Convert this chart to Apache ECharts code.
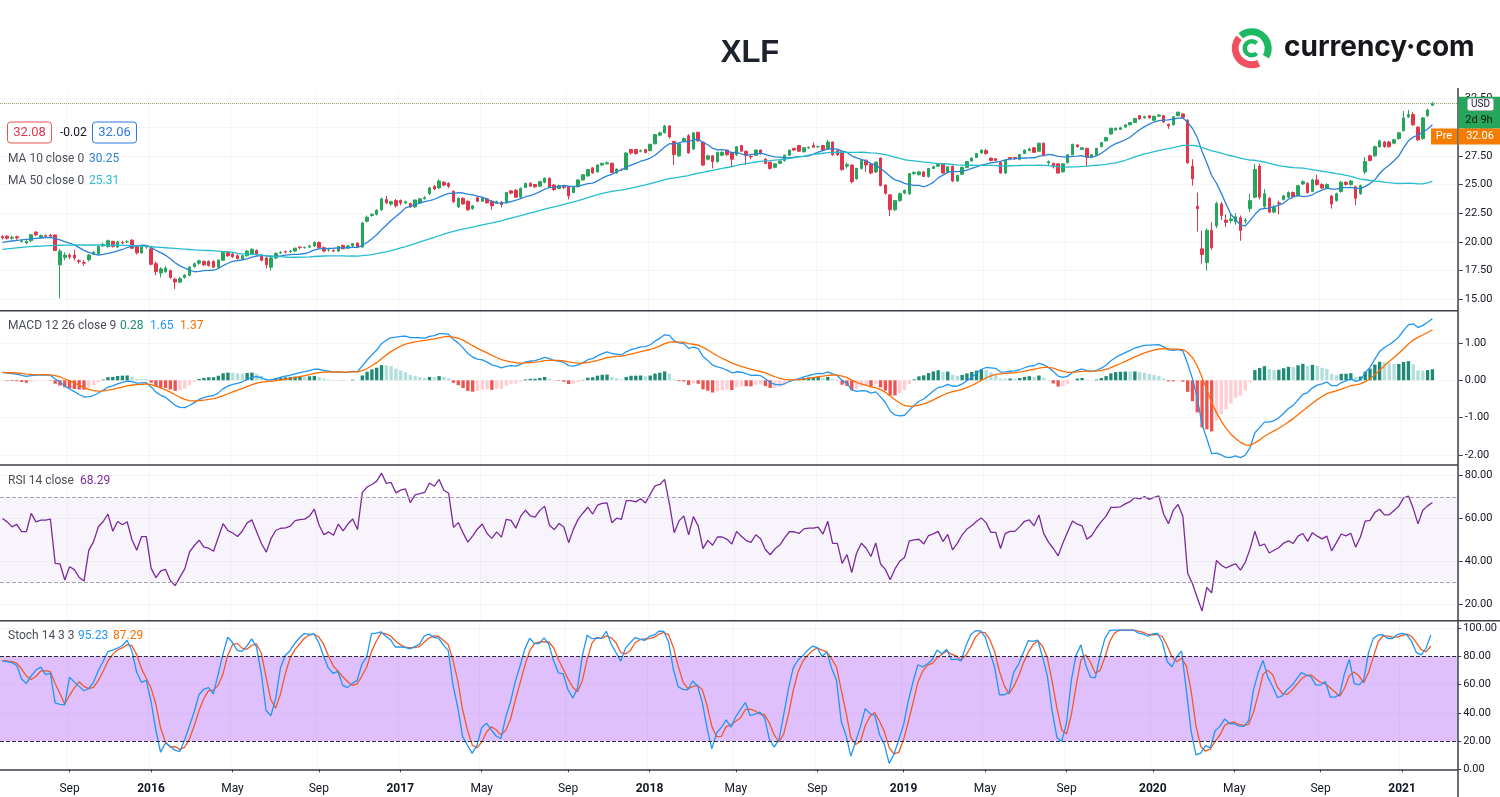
<!DOCTYPE html>
<html>
<head>
<meta charset="utf-8">
<title>XLF</title>
<script src="https://cdn.jsdelivr.net/npm/echarts@6/dist/echarts.min.js"></script>
<style>
  html, body { margin: 0; padding: 0; background: #fff; }
  #chart { width: 1500px; height: 797px; }
</style>
</head>
<body>
<div id="chart"></div>
<script>
// weekly bars from Jun 1 2015, 299 candles + 5 empty weeks of right margin
const firstWeek = Date.UTC(2015, 5, 1);
const weekCount = 304;
const weeks = [];
for (let i = 0; i < weekCount; i++) {
  weeks.push(new Date(firstWeek + i * 7 * 864e5).toISOString().slice(0, 10));
}

const opens = [
  20.45,20.50,20.32,20.45,20.05,19.90,20.10,20.85,20.40,20.55,
  20.60,20.60,18.00,18.65,18.85,18.85,18.35,18.20,18.45,18.95,
  19.00,19.65,19.60,20.05,19.55,19.95,20.00,20.15,19.60,19.05,
  19.60,19.40,18.10,17.30,17.40,17.50,16.75,16.50,16.90,17.10,
  17.85,18.15,18.30,18.30,18.30,17.80,18.40,19.10,18.95,18.80,
  18.55,18.80,18.90,19.25,18.85,18.60,17.80,18.60,19.05,19.15,
  19.15,19.20,19.55,19.50,19.55,19.65,19.95,19.50,19.30,19.25,
  19.20,19.70,19.45,19.65,19.90,19.55,21.80,22.30,22.40,22.80,
  23.70,23.30,23.60,23.60,23.40,23.35,23.05,23.40,23.75,24.20,
  24.85,24.70,25.20,25.10,24.40,23.05,23.80,23.55,22.90,23.85,
  23.55,23.75,23.55,23.35,23.45,23.40,24.45,24.50,23.90,24.75,
  25.10,25.00,24.85,25.20,25.55,24.95,24.65,24.80,24.80,24.30,
  24.80,25.40,25.75,26.45,26.10,26.70,26.80,26.85,26.00,26.30,
  26.30,28.05,28.05,27.90,28.05,27.95,28.55,29.30,29.50,30.10,
  28.75,27.50,28.80,29.25,28.10,29.55,28.70,27.20,27.50,27.00,
  27.55,28.00,27.80,27.60,28.40,27.90,27.45,27.55,28.00,27.20,
  26.95,26.50,26.85,27.10,27.55,28.15,28.40,27.85,28.20,28.40,
  28.30,28.40,28.10,28.70,27.95,27.85,26.60,26.70,25.50,26.40,
  27.10,26.75,26.10,27.30,24.95,24.10,22.80,23.60,24.25,24.20,
  25.95,25.85,26.10,25.70,26.40,26.60,26.80,26.05,26.60,25.30,
  25.90,26.50,27.05,27.35,27.75,27.95,27.30,27.25,26.90,26.00,
  27.35,27.35,27.20,27.70,27.95,28.20,27.90,28.60,26.90,26.85,
  26.80,26.10,26.90,27.60,28.45,28.05,28.15,27.35,27.55,28.30,
  28.80,29.40,29.75,29.80,30.00,30.20,30.40,31.00,30.80,31.00,
  30.60,30.95,31.00,30.25,30.20,31.00,31.15,30.60,26.60,23.10,
  19.40,18.20,21.00,21.40,23.30,21.90,21.85,21.75,22.10,21.85,
  22.90,23.90,26.60,23.10,23.80,22.60,23.40,23.70,23.90,24.30,
  24.00,25.05,25.10,24.40,25.40,25.00,24.70,24.00,23.60,24.40,
  25.20,25.00,24.80,24.20,26.10,27.50,27.50,28.30,28.70,28.70,
  28.60,29.00,29.70,30.90,31.10,30.00,29.00,31.00,31.90
];
const closes = [
  20.35,20.32,20.40,20.35,20.08,20.05,20.62,20.62,20.55,20.50,
  20.50,19.25,19.20,18.85,18.70,18.60,18.30,18.15,18.85,19.10,
  19.60,19.80,20.10,19.60,20.00,19.90,20.02,19.45,19.05,19.55,
  19.55,18.05,17.40,17.65,17.70,16.90,16.50,16.80,17.10,17.80,
  18.10,18.35,18.00,17.95,17.80,18.40,19.10,18.80,18.70,18.55,
  18.80,19.20,19.35,18.90,18.40,18.00,18.60,19.00,19.10,19.12,
  19.20,19.45,19.50,19.52,19.65,19.95,19.50,19.20,19.30,19.20,
  19.60,19.40,19.65,19.85,19.55,21.65,22.15,22.40,22.75,23.75,
  23.40,23.50,23.15,23.40,23.50,23.05,23.65,23.75,23.85,24.70,
  24.60,25.30,24.95,24.85,23.50,23.80,23.30,22.80,23.15,23.55,
  23.85,23.40,23.15,23.50,23.25,24.30,24.25,23.90,24.65,25.10,
  24.85,24.80,25.25,25.55,24.75,24.55,24.90,24.75,24.00,24.75,
  25.40,25.85,26.30,26.00,26.70,26.85,26.90,26.05,26.35,26.30,
  27.75,27.75,27.70,27.95,27.80,28.50,29.35,29.50,30.10,29.15,
  27.60,28.55,29.00,27.75,29.50,28.80,26.70,27.50,27.00,27.80,
  27.80,27.60,27.20,28.30,27.90,27.55,27.40,28.00,27.70,26.85,
  26.40,26.80,27.05,27.55,28.00,28.00,27.90,28.20,28.25,28.25,
  28.30,28.00,28.70,27.60,27.60,26.30,26.75,25.25,26.40,27.10,
  26.70,26.00,26.95,24.90,24.25,22.80,23.60,24.20,24.50,25.95,
  26.05,26.10,25.70,26.40,26.55,26.75,26.00,26.55,25.30,25.80,
  26.50,27.00,27.30,27.70,28.00,27.70,27.10,27.10,26.00,27.10,
  27.25,27.25,27.60,28.00,28.10,27.80,28.60,27.55,27.00,26.55,
  26.00,26.80,27.60,28.50,28.30,28.20,27.35,27.60,28.15,28.65,
  29.10,29.90,29.90,29.95,30.20,30.40,30.75,30.70,30.90,30.80,
  30.95,31.05,30.45,30.10,30.90,31.30,30.85,26.90,25.50,22.90,
  18.90,21.00,19.50,23.35,22.30,21.70,22.00,22.20,21.00,21.90,
  23.60,26.30,23.90,24.20,22.60,23.00,23.35,24.00,24.30,23.95,
  24.90,25.25,24.30,25.40,25.00,24.70,25.00,23.30,24.20,25.20,
  25.00,25.30,23.80,24.90,27.00,27.10,28.30,28.80,28.30,28.30,
  28.90,29.50,30.80,31.10,30.20,28.90,30.80,31.50,32.06
];
const lows = [
  20.20,20.20,20.20,20.20,19.95,19.80,20.00,20.50,20.30,20.40,
  20.40,19.20,15.08,18.40,18.50,18.40,18.10,17.90,18.30,18.85,
  18.95,19.55,19.50,19.50,19.45,19.80,19.90,19.40,18.90,18.95,
  19.40,17.95,17.10,16.90,17.30,16.80,15.90,16.40,16.80,17.00,
  17.75,18.00,17.90,17.85,17.70,17.70,18.35,18.70,18.60,18.45,
  18.45,18.70,18.85,18.80,18.30,17.70,17.50,18.50,18.95,19.00,
  19.05,19.10,19.35,19.40,19.45,19.55,19.40,19.10,19.15,19.10,
  19.10,19.35,19.40,19.55,19.45,19.50,21.70,22.20,22.30,22.70,
  23.30,23.15,23.00,23.20,23.30,22.95,22.95,23.35,23.70,24.10,
  24.50,24.60,24.85,24.70,23.40,22.95,23.25,22.70,22.80,23.45,
  23.50,23.35,22.80,23.30,23.00,23.35,24.15,23.85,23.80,24.70,
  24.80,24.70,24.80,25.10,24.70,24.45,24.60,24.60,23.70,24.25,
  24.75,25.35,25.70,25.95,26.05,26.60,26.75,26.00,25.95,26.20,
  26.25,27.60,27.60,27.80,27.70,27.90,28.50,29.20,29.45,29.00,
  26.70,27.40,28.70,27.70,28.00,28.75,26.60,27.10,26.40,26.90,
  27.50,27.50,26.50,27.50,27.85,26.70,27.20,27.50,27.60,26.75,
  26.30,26.40,26.80,27.00,27.50,27.90,27.85,27.80,28.10,28.20,
  28.20,27.95,28.05,27.50,27.50,26.20,26.40,25.10,25.40,26.30,
  26.10,25.90,26.00,24.85,24.10,22.25,22.70,23.50,24.15,24.10,
  25.85,25.80,25.65,25.60,26.35,26.55,25.95,26.00,25.20,25.25,
  25.85,26.45,27.00,27.30,27.70,27.60,27.00,27.00,25.95,25.90,
  27.10,27.15,27.10,27.65,27.90,27.75,27.85,27.50,26.70,26.40,
  25.95,26.05,26.85,27.55,28.20,28.00,26.60,27.30,27.50,28.25,
  28.75,29.35,29.70,29.75,29.95,30.15,30.35,30.65,30.75,30.75,
  30.55,30.90,30.40,29.85,30.15,30.95,30.80,26.80,24.90,20.90,
  18.10,17.50,19.30,21.20,21.90,21.30,21.60,21.50,20.10,21.60,
  22.60,23.80,23.70,22.90,22.50,22.50,22.40,23.60,23.80,23.80,
  23.95,24.95,24.20,24.35,24.90,24.60,24.60,22.90,23.50,24.30,
  24.90,24.90,23.20,24.10,25.90,27.00,27.40,28.20,28.20,28.20,
  28.50,28.90,29.60,30.80,30.10,28.80,28.90,30.90,31.85
];
const highs = [
  20.60,20.60,20.55,20.55,20.20,20.15,20.70,20.95,20.65,20.65,
  20.70,20.65,19.40,19.10,19.00,19.30,18.50,18.40,18.95,19.20,
  19.70,19.90,20.20,20.10,20.10,20.10,20.15,20.25,19.70,19.65,
  19.70,19.60,18.30,17.80,17.90,17.60,16.90,16.95,17.20,17.90,
  18.20,18.45,18.40,18.40,18.40,18.50,19.20,19.20,19.05,18.90,
  18.90,19.30,19.45,19.35,18.95,18.70,18.70,19.10,19.20,19.25,
  19.30,19.50,19.60,19.60,19.75,20.05,20.05,19.60,19.45,19.35,
  19.65,19.75,19.70,19.90,19.95,21.75,22.30,22.50,22.85,23.85,
  24.00,23.60,23.75,23.70,23.60,23.40,23.70,23.80,24.00,24.80,
  24.95,25.45,25.30,25.20,24.50,23.90,23.90,23.60,23.20,23.95,
  23.90,23.85,23.60,23.60,23.55,24.35,24.50,24.60,24.75,25.15,
  25.20,25.05,25.30,25.60,25.60,25.05,25.00,24.90,24.85,24.80,
  25.45,25.90,26.35,26.50,26.75,26.90,27.00,26.90,26.40,26.40,
  27.80,28.10,28.10,28.05,28.10,28.55,29.40,29.60,30.20,30.15,
  28.80,28.60,29.10,29.40,29.55,29.60,28.75,27.60,27.55,27.85,
  27.90,28.05,27.85,28.35,28.45,27.95,27.55,28.05,28.05,27.30,
  27.00,26.85,27.10,27.60,28.05,28.20,28.45,28.25,28.30,28.65,
  28.40,28.45,28.90,28.75,28.00,27.90,26.90,26.75,26.45,27.15,
  27.20,26.80,27.00,27.35,25.00,24.15,23.65,24.30,24.55,26.00,
  26.15,26.20,26.15,26.45,26.65,26.85,26.85,26.60,26.65,25.85,
  26.55,27.05,27.35,27.75,28.05,28.10,27.35,27.30,26.95,27.15,
  27.40,27.40,27.65,28.05,28.20,28.25,28.65,28.65,27.10,26.90,
  26.85,26.85,27.65,28.55,28.50,28.25,28.20,27.65,28.20,28.70,
  29.15,29.95,29.95,30.00,30.25,30.45,30.80,31.05,31.00,31.05,
  31.00,31.15,31.05,30.30,30.95,31.35,31.20,30.70,27.20,24.30,
  21.00,21.20,21.70,23.50,23.50,22.40,22.50,22.50,22.30,22.10,
  24.20,26.80,26.80,24.60,23.90,23.20,23.60,24.10,24.40,24.40,
  24.95,25.35,25.20,25.50,25.85,25.10,25.10,24.10,24.30,25.30,
  25.30,25.40,24.90,25.00,27.40,27.60,28.40,28.90,28.80,28.80,
  29.00,29.60,31.40,31.50,31.30,30.10,30.90,31.60,32.20
];

// indicator values for the first weeks, whose history lies left of the chart
const ma10Head = [19.95,20.02,20.08,20.13,20.18,20.22,20.26,20.30,20.34];
const ma50Head = [
  19.35,19.40,19.44,19.48,19.52,19.56,19.59,19.62,19.64,19.66,
  19.68,19.70,19.71,19.72,19.72,19.73,19.73,19.73,19.73,19.73,
  19.73,19.72,19.72,19.71,19.71,19.70,19.70,19.68,19.66,19.64,
  19.61,19.58,19.55,19.52,19.49,19.46,19.43,19.40,19.37,19.34,
  19.31,19.29,19.27,19.25,19.22,19.19,19.16,19.13,19.10
];
const rsiHead = [60.0,58.4,56.1,57.2,53.8,53.8,62.4,58.4,59.2,59.2,59.7,39.0,38.8,31.2,37.4];
const stochKHead = [76.8,76.4,75.7,73.6,64.1,60.9,66.2,70.4,72.5,67.2,68.3,47.1,46.1];
const stochDHead = [77.0,76.8];
const macdStart = 0.21, signalStart = 0.21;

const priceTicks = [15, 17.5, 20, 22.5, 25, 27.5, 30, 32.5];
const macdTicks = [-2, -1, 0, 1];
const rsiTicks = [20, 40, 60, 80];
const stochTicks = [0, 20, 40, 60, 80, 100];
const lastPrice = 32.06;

const monthNames = ['Jan','Feb','Mar','Apr','May','Jun','Jul','Aug','Sep','Oct','Nov','Dec'];
const FONT = 'Roboto, "Liberation Sans", sans-serif';
const UP = '#26a65b', DOWN = '#e0364d';
const BLUE = '#2196f3', ORANGE = '#ff6d00', CYAN = '#26bcd0', MA10C = '#2a83d6', PURPLE = '#7b2a9c';

// --- indicators ---
function movingAvg(src, n, head) {
  return src.map((v, i) => {
    if (i < n - 1) return head[i];
    let s = 0;
    for (let j = i - n + 1; j <= i; j++) s += src[j];
    return +(s / n).toFixed(3);
  });
}
function ema(src, n, seed) {
  const k = 2 / (n + 1);
  const out = [];
  src.forEach((v, i) => out.push(i === 0 ? seed : v * k + out[i - 1] * (1 - k)));
  return out;
}
const ma10 = movingAvg(closes, 10, ma10Head);
const ma50 = movingAvg(closes, 50, ma50Head);

const ema12 = ema(closes, 12, closes[0]);
const ema26 = ema(closes, 26, closes[0] - macdStart);
const macd = closes.map((c, i) => ema12[i] - ema26[i]);
const signal = ema(macd, 9, signalStart);
const hist = macd.map((m, i) => m - signal[i]);
const histData = hist.map((h, i) => {
  const prev = i ? hist[i - 1] : 0;
  let c;
  if (h >= 0) c = prev < h ? '#1e8a76' : '#b2dfdb';
  else c = prev < h ? '#ffcdd2' : '#ef5350';
  return { value: +h.toFixed(4), itemStyle: { color: c } };
});

// RSI: Wilder smoothing continued from the last read head value
const rsi = rsiHead.slice();
let h0 = rsiHead.length - 1, absSum = 0;
for (let i = 1; i <= h0; i++) absSum += Math.abs(closes[i] - closes[i - 1]);
let avgGain = absSum / h0 * rsiHead[h0] / 100;
let avgLoss = absSum / h0 - avgGain;
for (let i = h0 + 1; i < closes.length; i++) {
  const ch = closes[i] - closes[i - 1];
  avgGain = (avgGain * 13 + Math.max(ch, 0)) / 14;
  avgLoss = (avgLoss * 13 + Math.max(-ch, 0)) / 14;
  rsi.push(+(avgLoss === 0 ? 100 : 100 - 100 / (1 + avgGain / avgLoss)).toFixed(2));
}

const rawK = closes.map((c, i) => {
  const a = Math.max(0, i - 13);
  const hh = Math.max(...highs.slice(a, i + 1)), ll = Math.min(...lows.slice(a, i + 1));
  return hh === ll ? 50 : 100 * (c - ll) / (hh - ll);
});
const stochK = rawK.map((v, i) => i < stochKHead.length ? stochKHead[i] : +((rawK[i] + rawK[i - 1] + rawK[i - 2]) / 3).toFixed(2));
const stochD = stochK.map((v, i) => i < stochDHead.length ? stochDHead[i] : +((stochK[i] + stochK[i - 1] + stochK[i - 2]) / 3).toFixed(2));

const candles = opens.map((o, i) => [o, closes[i], lows[i], highs[i]]);

// --- layout ---
const gridLeft = -3.4, gridWidth = 1462.2;
const panels = [
  { top: 92, height: 218.7, min: 14.007, max: 33.06, ticks: priceTicks },
  { top: 310.7, height: 154.3, min: -2.269, max: 1.864, ticks: macdTicks },
  { top: 465, height: 155.7, min: 12.18, max: 85.01, ticks: rsiTicks },
  { top: 620.7, height: 154.3, min: -4.04, max: 105.4, ticks: stochTicks }
];

function isLabelWeek(i) {
  if (i === 0) return false;
  const m = +weeks[i].slice(5, 7), pm = +weeks[i - 1].slice(5, 7);
  return m !== pm && (m === 1 || m === 5 || m === 9);
}
const faint = 'rgba(42,46,57,0.045)';

const chart = echarts.init(document.getElementById('chart'));

function txt(x, y, text, color, size, align) {
  return {
    type: 'text', x: x, y: y, z: 100,
    style: { text: text, fill: color, font: (size || 12) + 'px ' + FONT, verticalAlign: 'middle', align: align || 'left' }
  };
}
function box(x, y, w, h, fill, stroke, r) {
  return { type: 'rect', z: 99, shape: { x: x, y: y, width: w, height: h, r: r || 0 },
    style: { fill: fill, stroke: stroke || null, lineWidth: 1 } };
}
function hline(y, x1, x2, color, w) {
  return { type: 'line', z: 98, shape: { x1: x1, y1: y, x2: x2, y2: y }, style: { stroke: color, lineWidth: w } };
}

const graphics = [
  // title
  { type: 'text', x: 750, y: 53, z: 100,
    style: { text: 'XLF', fill: '#1e222d', font: 'bold 31px "Liberation Sans", Arial, sans-serif', align: 'center', verticalAlign: 'middle' } },
  // logo
  { type: 'arc', z: 100, shape: { cx: 1251.7, cy: 48.3, r: 16.5, startAngle: Math.PI * 0.36, endAngle: Math.PI * 1.22, clockwise: true },
    style: { stroke: '#ef4f5f', lineWidth: 7, fill: null } },
  { type: 'arc', z: 100, shape: { cx: 1251.7, cy: 48.3, r: 16.5, startAngle: Math.PI * 1.27, endAngle: Math.PI * 2.17, clockwise: true },
    style: { stroke: '#1fb862', lineWidth: 7, fill: null } },
  { type: 'arc', z: 100, shape: { cx: 1251.7, cy: 48.3, r: 7, startAngle: Math.PI * 0.25, endAngle: Math.PI * 1.75, clockwise: true },
    style: { stroke: '#1fb862', lineWidth: 4.5, fill: null } },
  { type: 'text', x: 1284, y: 48, z: 100,
    style: { text: 'currency·com', fill: '#15171a', font: 'bold 28px Inter, "Open Sans", sans-serif', align: 'left', verticalAlign: 'middle' } },
  // price legend
  box(7.5, 122, 44, 21, '#fff', '#ef5350', 3),
  txt(29.5, 132.5, '32.08', '#e0364d', 13, 'center'),
  txt(60, 132.5, '-0.02', '#131722', 12),
  box(92.5, 122, 44, 21, '#fff', '#2a7ae2', 3),
  txt(114.5, 132.5, '32.06', '#2a7ae2', 13, 'center'),
  txt(8, 159, 'MA 10 close 0', '#4a4e59', 12),
  txt(89, 159, '30.25', MA10C, 12),
  txt(8, 181, 'MA 50 close 0', '#4a4e59', 12),
  txt(89, 181, '25.31', CYAN, 12),
  // indicator legends
  txt(8, 326, 'MACD 12 26 close 9', '#4a4e59', 12),
  txt(120, 326, '0.28', '#1e8a76', 12),
  txt(150, 326, '1.65', BLUE, 12),
  txt(180, 326, '1.37', ORANGE, 12),
  txt(8, 481, 'RSI 14 close', '#4a4e59', 12),
  txt(80, 481, '68.29', PURPLE, 12),
  txt(8, 636, 'Stoch 14 3 3', '#4a4e59', 12),
  txt(78, 636, '95.23', BLUE, 12),
  txt(113, 636, '87.29', ORANGE, 12),
  // panel separators and price scale border
  hline(310.7, 0, 1458, '#3b3f4a', 1.5),
  hline(465, 0, 1458, '#3b3f4a', 1.5),
  hline(620.7, 0, 1500, '#3b3f4a', 1.5),
  { type: 'line', z: 98, shape: { x1: 1458, y1: 88, x2: 1458, y2: 797 }, style: { stroke: '#3b3f4a', lineWidth: 1.5 } },
  // right-side price labels
  box(1458.5, 96.8, 41.5, 31.7, UP),
  box(1467.5, 98.5, 26, 12, '#fff', '#b2b5be', 2),
  txt(1480.5, 104.8, 'USD', '#131722', 10, 'center'),
  txt(1479, 120.5, '2d 9h', '#0f1a14', 11, 'center'),
  box(1458.5, 128.5, 41.5, 16, '#f57c00'),
  box(1431, 128.5, 26, 16, '#f57c00'),
  txt(1444, 136.5, 'Pre', '#fff', 11, 'center'),
  txt(1480, 136.5, '32.06', '#fff', 11, 'center')
];

const option = {
  animation: false,
  backgroundColor: '#fff',
  textStyle: { fontFamily: FONT },
  grid: panels.map(p => ({ left: gridLeft, width: gridWidth, top: p.top, height: p.height })),
  xAxis: panels.map((p, gi) => ({
    type: 'category',
    gridIndex: gi,
    data: weeks,
    boundaryGap: true,
    axisLine: { show: gi === 3, lineStyle: { color: '#3b3f4a', width: 1.5 } },
    axisTick: { show: gi === 3, alignWithLabel: true, length: 3, interval: (i) => isLabelWeek(i), lineStyle: { color: '#3b3f4a' } },
    axisLabel: {
      show: gi === 3,
      interval: (i) => isLabelWeek(i),
      color: '#131722',
      fontSize: 12,
      margin: 8,
      formatter: (v) => {
        const m = +v.slice(5, 7);
        return m === 1 ? '{y|' + v.slice(0, 4) + '}' : monthNames[m - 1];
      },
      rich: { y: { fontWeight: 'bold', fontSize: 12, color: '#131722' } }
    },
    splitLine: { show: true, interval: (i) => isLabelWeek(i), lineStyle: { color: faint } }
  })),
  yAxis: panels.map((p, gi) => ({
    type: 'value',
    gridIndex: gi,
    position: 'right',
    min: p.min,
    max: p.max,
    axisLine: { show: false },
    axisTick: { show: true, length: 4, customValues: p.ticks, lineStyle: { color: '#3b3f4a' } },
    axisLabel: { customValues: p.ticks, formatter: (v) => v.toFixed(2), color: '#131722', fontSize: 11, margin: 6 },
    splitLine: { show: true, customValues: p.ticks, lineStyle: { color: faint } }
  })),
  series: [
    {
      name: 'XLF', type: 'candlestick', xAxisIndex: 0, yAxisIndex: 0,
      data: candles, barWidth: 3,
      itemStyle: { color: UP, color0: DOWN, borderColor: UP, borderColor0: DOWN, borderWidth: 1 },
      markLine: {
        silent: true, symbol: 'none', label: { show: false },
        lineStyle: { color: '#9c9a78', type: 'dotted', width: 1 },
        data: [{ yAxis: lastPrice }]
      }
    },
    { name: 'MA 10', type: 'line', xAxisIndex: 0, yAxisIndex: 0, data: ma10, symbol: 'none', lineStyle: { color: MA10C, width: 1.3 } },
    { name: 'MA 50', type: 'line', xAxisIndex: 0, yAxisIndex: 0, data: ma50, symbol: 'none', lineStyle: { color: CYAN, width: 1.3 } },
    { name: 'Histogram', type: 'bar', xAxisIndex: 1, yAxisIndex: 1, data: histData, barWidth: '70%' },
    { name: 'MACD', type: 'line', xAxisIndex: 1, yAxisIndex: 1, data: macd.map(v => +v.toFixed(4)), symbol: 'none', lineStyle: { color: BLUE, width: 1.3 }, z: 3 },
    { name: 'Signal', type: 'line', xAxisIndex: 1, yAxisIndex: 1, data: signal.map(v => +v.toFixed(4)), symbol: 'none', lineStyle: { color: ORANGE, width: 1.3 }, z: 3 },
    {
      name: 'RSI', type: 'line', xAxisIndex: 2, yAxisIndex: 2, data: rsi, symbol: 'none',
      lineStyle: { color: PURPLE, width: 1.3 },
      markArea: { silent: true, itemStyle: { color: 'rgba(126,87,194,0.06)' }, data: [[{ yAxis: 30 }, { yAxis: 70 }]] },
      markLine: { silent: true, symbol: 'none', label: { show: false }, lineStyle: { color: '#a5a7b0', type: 'dashed', width: 1 }, data: [{ yAxis: 70 }, { yAxis: 30 }] }
    },
    {
      name: '%K', type: 'line', xAxisIndex: 3, yAxisIndex: 3, data: stochK, symbol: 'none',
      lineStyle: { color: BLUE, width: 1.3 }, z: 4,
      markArea: { silent: true, itemStyle: { color: 'rgba(170,90,250,0.38)' }, data: [[{ yAxis: 20 }, { yAxis: 80 }]] },
      markLine: { silent: true, symbol: 'none', label: { show: false }, lineStyle: { color: '#2a2e39', type: 'dashed', width: 1 }, data: [{ yAxis: 80 }, { yAxis: 20 }] }
    },
    { name: '%D', type: 'line', xAxisIndex: 3, yAxisIndex: 3, data: stochD, symbol: 'none', lineStyle: { color: '#f05a28', width: 1.3 }, z: 3 }
  ],
  graphic: graphics
};

chart.setOption(option);
</script>
</body>
</html>
